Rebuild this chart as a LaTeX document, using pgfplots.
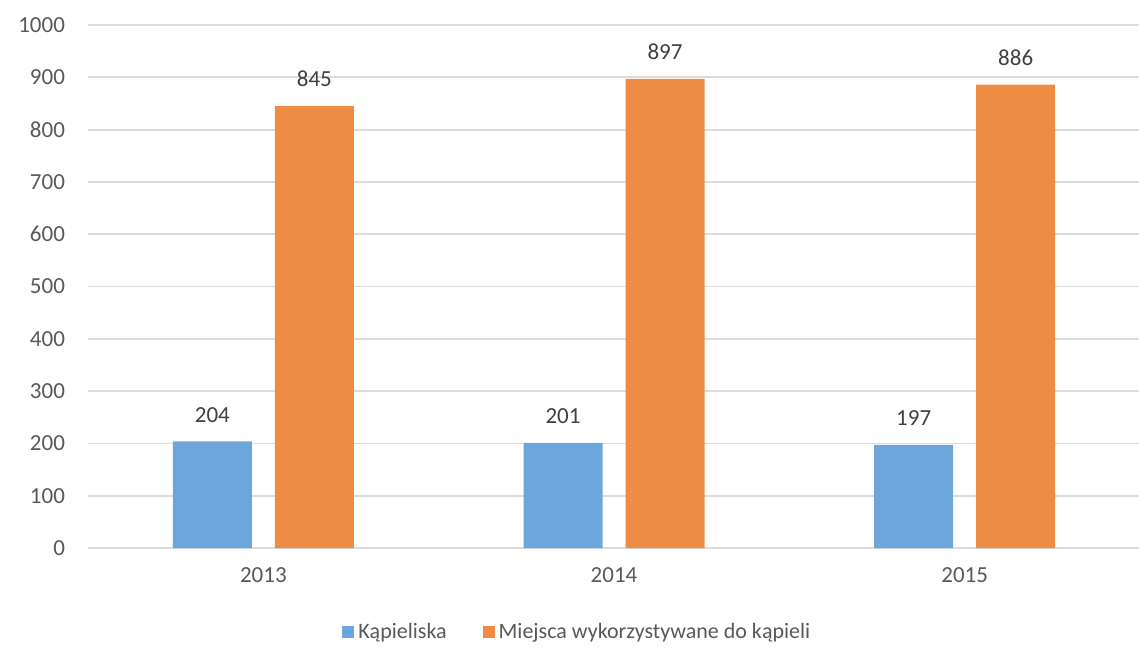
\documentclass[border=0pt]{standalone}
\usepackage{pgfplots}
\pgfplotsset{compat=1.18}
\usepackage{fontspec}
\setmainfont{Carlito}
\definecolor{cblue}{HTML}{6CA6DC}
\definecolor{corange}{HTML}{EE8C45}
\definecolor{txt}{HTML}{595959}
\definecolor{grd}{HTML}{DCDCDC}
\begin{document}
\begin{tikzpicture}
\path[use as bounding box] (-44pt,-51pt) rectangle (525.5pt,274pt);
\begin{axis}[
    width=526pt,
    height=261.5pt,
    scale only axis,
    at={(0,0)},
    ybar=11.5pt,
    bar width=39.5pt,
    xmin=-0.5, xmax=2.5,
    ymin=0, ymax=1000,
    xtick={0,1,2},
    xticklabels={2013,2014,2015},
    ytick={0,100,...,1000},
    ymajorgrids,
    grid style={grd, line width=0.9pt},
    axis line style={draw=none},
    major tick length=0pt,
    tick label style={font=\fontsize{11.5}{13}\selectfont, text=txt},
    /pgf/number format/assume math mode=true,
    /pgf/number format/set thousands separator={},
    xticklabel style={yshift=-6pt},
    yticklabel style={xshift=-8pt},
    nodes near coords,
    every node near coord/.append style={font=\fontsize{11.5}{13}\selectfont, text=black!75, yshift=6pt},
    legend style={draw=none, at={(rel axis cs:0.466,0)}, yshift=-42pt, anchor=center,
      font=\fontsize{11}{13}\selectfont, text=txt, legend columns=2,
      /tikz/every even column/.append style={column sep=16pt}},
    legend image code/.code={\fill[#1] (0pt,-3pt) rectangle (6pt,3pt);},
  ]
\addplot[fill=cblue, draw=none] coordinates {(0,204) (1,201) (2,197)};
\addplot[fill=corange, draw=none] coordinates {(0,845) (1,897) (2,886)};
\legend{Kąpieliska, Miejsca wykorzystywane do kąpieli}
\end{axis}
\end{tikzpicture}
\end{document}
